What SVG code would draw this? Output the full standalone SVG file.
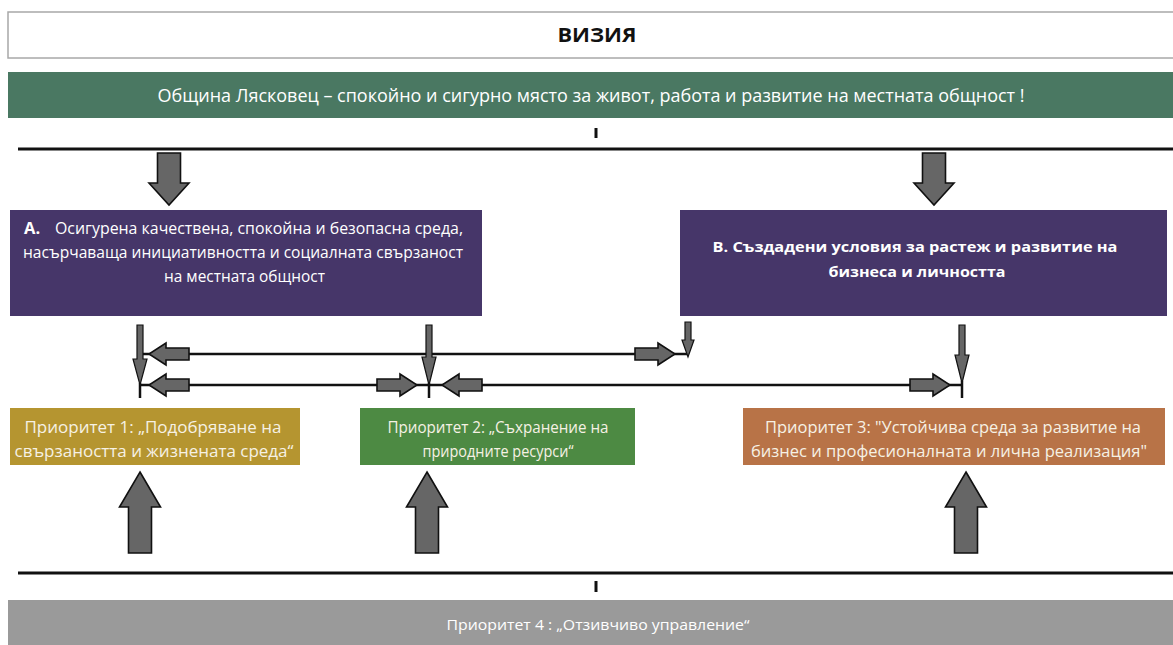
<svg xmlns="http://www.w3.org/2000/svg" width="1173" height="645" viewBox="0 0 1173 645">
<style>
  .t { font-family: "Open Sans", "Noto Sans", "DejaVu Sans", sans-serif; }
  .w { fill: #ffffff; }
  .p { fill: #f6f1e4; font-size: 15.5px; }
  .b { font-weight: bold; }
  .blk { fill: #666666; stroke: #111; stroke-width: 1.6; stroke-linejoin: miter; }
  .thin { fill: #666666; stroke: #111; stroke-width: 1.2; }
  .ln { stroke: #111; stroke-width: 2.5; fill: none; }
  .thick { stroke: #111; stroke-width: 3; fill: none; }
</style>
<defs>
  <path id="bigDown" d="M-11.5,0 H11.5 V30 H20 L0,52 L-20,30 H-11.5 Z"/>
  <path id="bigUp" d="M0,0 L20.5,35 H11.5 V81 H-11.5 V35 H-20.5 Z"/>
  <path id="smallRight" d="M-40,-6 H-17 V-11 L0,0 L-17,11 V6 H-40 Z"/>
</defs>
<rect width="1173" height="645" fill="#ffffff"/>

<g id="vision-title">
  <rect x="8" y="12" width="1170" height="46" fill="#ffffff" stroke="#a8a8a8" stroke-width="1.5"/>
  <text class="t b" x="597" y="42" font-size="19" text-anchor="middle" fill="#111" textLength="79" lengthAdjust="spacingAndGlyphs">ВИЗИЯ</text>
</g>

<g id="vision">
  <rect x="8" y="72" width="1170" height="46" fill="#4a7862"/>
  <text class="t w" x="591" y="102" font-size="18" text-anchor="middle" textLength="867" lengthAdjust="spacingAndGlyphs">Община Лясковец – спокойно и сигурно място за живот, работа и развитие на местната общност !</text>
</g>

<g id="goal-a">
  <rect x="10" y="210" width="472" height="106" fill="#463669"/>
  <text class="t w b" x="24" y="234" font-size="16.5">А.</text>
  <text class="t w" x="55" y="234" font-size="16" textLength="408" lengthAdjust="spacingAndGlyphs">Осигурена качествена, спокойна и безопасна среда,</text>
  <text class="t w" x="23" y="258" font-size="16" textLength="440" lengthAdjust="spacingAndGlyphs">насърчаваща инициативността и социалната свързаност</text>
  <text class="t w" x="164" y="282" font-size="16" textLength="161" lengthAdjust="spacingAndGlyphs">на местната общност</text>
</g>

<g id="goal-b">
  <rect x="680" y="210" width="487" height="106" fill="#463669"/>
  <text class="t w b" x="915" y="252" font-size="15" text-anchor="middle" textLength="405" lengthAdjust="spacingAndGlyphs">В. Създадени условия за растеж и развитие на</text>
  <text class="t w b" x="917" y="277" font-size="15" text-anchor="middle" textLength="177" lengthAdjust="spacingAndGlyphs">бизнеса и личността</text>
</g>

<g id="priority-1">
  <rect x="10" y="408" width="290" height="57" fill="#b59530"/>
  <text class="t p" x="153" y="433" text-anchor="middle" textLength="257" lengthAdjust="spacingAndGlyphs">Приоритет 1: „Подобряване на</text>
  <text class="t p" x="154" y="457" text-anchor="middle" textLength="279" lengthAdjust="spacingAndGlyphs">свързаността и жизнената среда“</text>
</g>

<g id="priority-2">
  <rect x="360" y="408" width="275" height="57" fill="#4d8a43"/>
  <text class="t p" x="498" y="433" text-anchor="middle" textLength="221" lengthAdjust="spacingAndGlyphs">Приоритет 2: „Съхранение на</text>
  <text class="t p" x="498" y="457" text-anchor="middle" textLength="151" lengthAdjust="spacingAndGlyphs">природните ресурси“</text>
</g>

<g id="priority-3">
  <rect x="743" y="408" width="422" height="57" fill="#b87347"/>
  <text class="t p" x="953" y="433" text-anchor="middle" textLength="376" lengthAdjust="spacingAndGlyphs">Приоритет 3: "Устойчива среда за развитие на</text>
  <text class="t p" x="949" y="457" text-anchor="middle" textLength="396" lengthAdjust="spacingAndGlyphs">бизнес и професионалната и лична реализация"</text>
</g>

<g id="priority-4">
  <rect x="8" y="600" width="1170" height="50" fill="#9a9a9a"/>
  <text class="t w" x="598" y="630" font-size="15" text-anchor="middle" textLength="303" lengthAdjust="spacingAndGlyphs">Приоритет 4 : „Отзивчиво управление“</text>
</g>

<g id="connectors">
  <line class="thick" x1="596" y1="128" x2="596" y2="138"/>
  <line class="thick" x1="18" y1="149" x2="1173" y2="149"/>
  <use href="#bigDown" class="blk" transform="translate(169,153)"/>
  <use href="#bigDown" class="blk" transform="translate(934,153)"/>

  <line class="ln" x1="140" y1="354" x2="688" y2="354"/>
  <line class="ln" x1="140" y1="385" x2="962" y2="385"/>
  <line class="ln" x1="140" y1="383" x2="140" y2="398"/>
  <line class="ln" x1="429" y1="383" x2="429" y2="398"/>
  <line class="ln" x1="962" y1="381" x2="962" y2="398"/>

  <path class="thin" d="M137,325 H143 V359 H147 L140,385 L133,359 H137 Z"/>
  <path class="thin" d="M426,325 H432 V357 H436 L429,385 L422,357 H426 Z"/>
  <path class="thin" d="M685,322 H691 V340 H694 L688,357 L682,340 H685 Z"/>
  <path class="thin" d="M959,325 H965 V355 H969 L962,383 L955,355 H959 Z"/>

  <use href="#smallRight" class="blk" transform="translate(149,354) scale(-1,1)"/>
  <use href="#smallRight" class="blk" transform="translate(149,385) scale(-1,1)"/>
  <use href="#smallRight" class="blk" transform="translate(417,385)"/>
  <use href="#smallRight" class="blk" transform="translate(442,385) scale(-1,1)"/>
  <use href="#smallRight" class="blk" transform="translate(675,354)"/>
  <use href="#smallRight" class="blk" transform="translate(950,385)"/>

  <use href="#bigUp" class="blk" transform="translate(140,472)"/>
  <use href="#bigUp" class="blk" transform="translate(427,472)"/>
  <use href="#bigUp" class="blk" transform="translate(966,472)"/>

  <line class="thick" x1="18" y1="573" x2="1173" y2="573"/>
  <line class="thick" x1="596" y1="581" x2="596" y2="592"/>
</g>
</svg>
